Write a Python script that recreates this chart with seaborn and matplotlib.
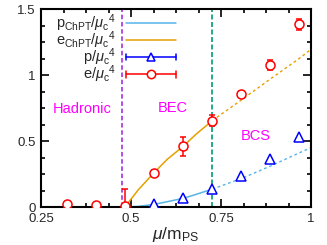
import numpy as np
import pandas as pd
import seaborn as sns
import matplotlib
matplotlib.use('Agg')
import matplotlib.pyplot as plt
from matplotlib.lines import Line2D
from matplotlib.ticker import AutoMinorLocator, FixedLocator
from matplotlib.legend_handler import HandlerBase

# lattice data
mu_data = [0.322, 0.403, 0.483, 0.564, 0.645, 0.726, 0.806, 0.887, 0.967]
e_data = [0.023, 0.015, 0.005, 0.26, 0.46, 0.655, 0.856, 1.076, 1.385]
e_err = [0.01, 0.01, 0.13, 0.02, 0.07, 0.04, 0.02, 0.035, 0.04]
p_data = [0.0, 0.0, 0.0, 0.02, 0.066, 0.136, 0.235, 0.362, 0.527]

# ChPT curves (solid up to the BEC/BCS line, dashed after)
chpt_mu_solid = [0.483, 0.52, 0.564, 0.60, 0.645, 0.68, 0.726]
e_chpt_solid = [0.0, 0.13, 0.26, 0.36, 0.46, 0.55, 0.655]
p_chpt_solid = [0.0, 0.005, 0.02, 0.04, 0.066, 0.095, 0.136]
chpt_mu_dash = [0.726, 0.806, 0.887, 0.967, 1.0]
e_chpt_dash = [0.655, 0.81, 0.97, 1.125, 1.195]
p_chpt_dash = [0.136, 0.215, 0.31, 0.41, 0.45]

mu_hadron_bec = 0.474
mu_bec_bcs = 0.726

region_names = ['Hadronic', 'BEC', 'BCS']
region_x = [0.364, 0.615, 0.847]
region_y = [0.74, 0.75, 0.535]

c_p = '#56b4e9'
c_e = '#e69f00'

sns.set_style('ticks')
plt.rcParams['font.family'] = ['Liberation Sans', 'DejaVu Sans']
plt.rcParams['mathtext.fontset'] = 'custom'
plt.rcParams['mathtext.rm'] = 'Liberation Sans'
plt.rcParams['mathtext.it'] = 'Liberation Sans:italic'

fig = plt.figure(figsize=(3.27, 2.45), dpi=100)
ax = fig.add_axes([0.1254, 0.155, 0.8257, 0.808])

solid = pd.DataFrame({'mu': chpt_mu_solid, 'e': e_chpt_solid, 'p': p_chpt_solid})
dash = pd.DataFrame({'mu': chpt_mu_dash, 'e': e_chpt_dash, 'p': p_chpt_dash})
sns.lineplot(data=solid, x='mu', y='p', color=c_p, lw=1.1, ax=ax)
sns.lineplot(data=solid, x='mu', y='e', color=c_e, lw=1.1, ax=ax)
sns.lineplot(data=dash, x='mu', y='p', color=c_p, lw=1.0, ls=(0, (2, 2)), ax=ax)
sns.lineplot(data=dash, x='mu', y='e', color=c_e, lw=1.0, ls=(0, (2, 2)), ax=ax)

ax.axvline(mu_hadron_bec, color='#9400d3', lw=1.3, ls=(0, (2.5, 1.5)), alpha=0.75)
ax.axvline(mu_bec_bcs, color='#009e73', lw=1.2, ls=(0, (3, 1.5)))

ax.errorbar(mu_data, p_data, fmt='^', color='#0000ff', mfc='white', ms=6.5,
            mew=1.1, zorder=5)
ax.errorbar(mu_data, e_data, yerr=e_err, fmt='o', color='#ff0000', mfc='white',
            ms=6.5, mew=1.1, capsize=2, elinewidth=1.1, zorder=6)

for name, x, y in zip(region_names, region_x, region_y):
    ax.text(x, y, name, color='#ff00ff', fontsize=10.5, ha='center', va='center')

ax.set_xlim(0.25, 1.0)
ax.set_ylim(0, 1.5)
ax.xaxis.set_major_locator(FixedLocator([0.25, 0.5, 0.75, 1.0]))
ax.yaxis.set_major_locator(FixedLocator([0, 0.5, 1.0, 1.5]))
ax.set_xticklabels(['0.25', '0.5', '0.75', '1'])
ax.set_yticklabels(['0', '0.5', '1', '1.5'])
ax.xaxis.set_minor_locator(AutoMinorLocator(4))
ax.yaxis.set_minor_locator(AutoMinorLocator(4))
ax.tick_params(which='both', direction='in', top=True, right=True, labelsize=9.5,
               width=1.2, color='black')
ax.tick_params(which='major', length=6, pad=4)
ax.tick_params(which='minor', length=3)
for s in ax.spines.values():
    s.set_linewidth(1.5)
    s.set_color('black')
ax.set_xlabel(r'$\mu$/m$_{\rm PS}$', fontsize=12.5, labelpad=0)
ax.set_ylabel('')


class ErrHandler(HandlerBase):
    def create_artists(self, legend, orig, xd, yd, w, h, fs, trans):
        y = h / 2 - yd
        x0, x1 = -xd, w - xd
        c = orig.get_color()
        arts = [Line2D([x0, x1], [y, y], color=c, lw=1.1),
                Line2D([x0, x0], [y - 2.5, y + 2.5], color=c, lw=1.1),
                Line2D([x1, x1], [y - 2.5, y + 2.5], color=c, lw=1.1),
                Line2D([(x0 + x1) / 2], [y], marker=orig.get_marker(), color=c,
                       mfc='white', ms=6, mew=1.1)]
        for a in arts:
            a.set_transform(trans)
        return arts


h_pchpt = Line2D([], [], color=c_p, lw=1.1)
h_echpt = Line2D([], [], color=c_e, lw=1.1)
h_p = Line2D([], [], color='#0000ff', marker='^')
h_e = Line2D([], [], color='#ff0000', marker='o')
labels = [r'p$_{\rm ChPT}$/$\mu_{\rm c}{}^4$', r'e$_{\rm ChPT}$/$\mu_{\rm c}{}^4$',
          r'p/$\mu_{\rm c}{}^4$', r'e/$\mu_{\rm c}{}^4$']
ax.legend([h_pchpt, h_echpt, h_p, h_e], labels, loc='upper right',
          bbox_to_anchor=(0.5, 0.985), frameon=False, markerfirst=False,
          fontsize=10.5, handlelength=3.4, handletextpad=0.7, labelspacing=-0.3,
          borderpad=0, borderaxespad=0,
          handler_map={h_p: ErrHandler(), h_e: ErrHandler()})

fig.savefig('out.png', dpi=100)
